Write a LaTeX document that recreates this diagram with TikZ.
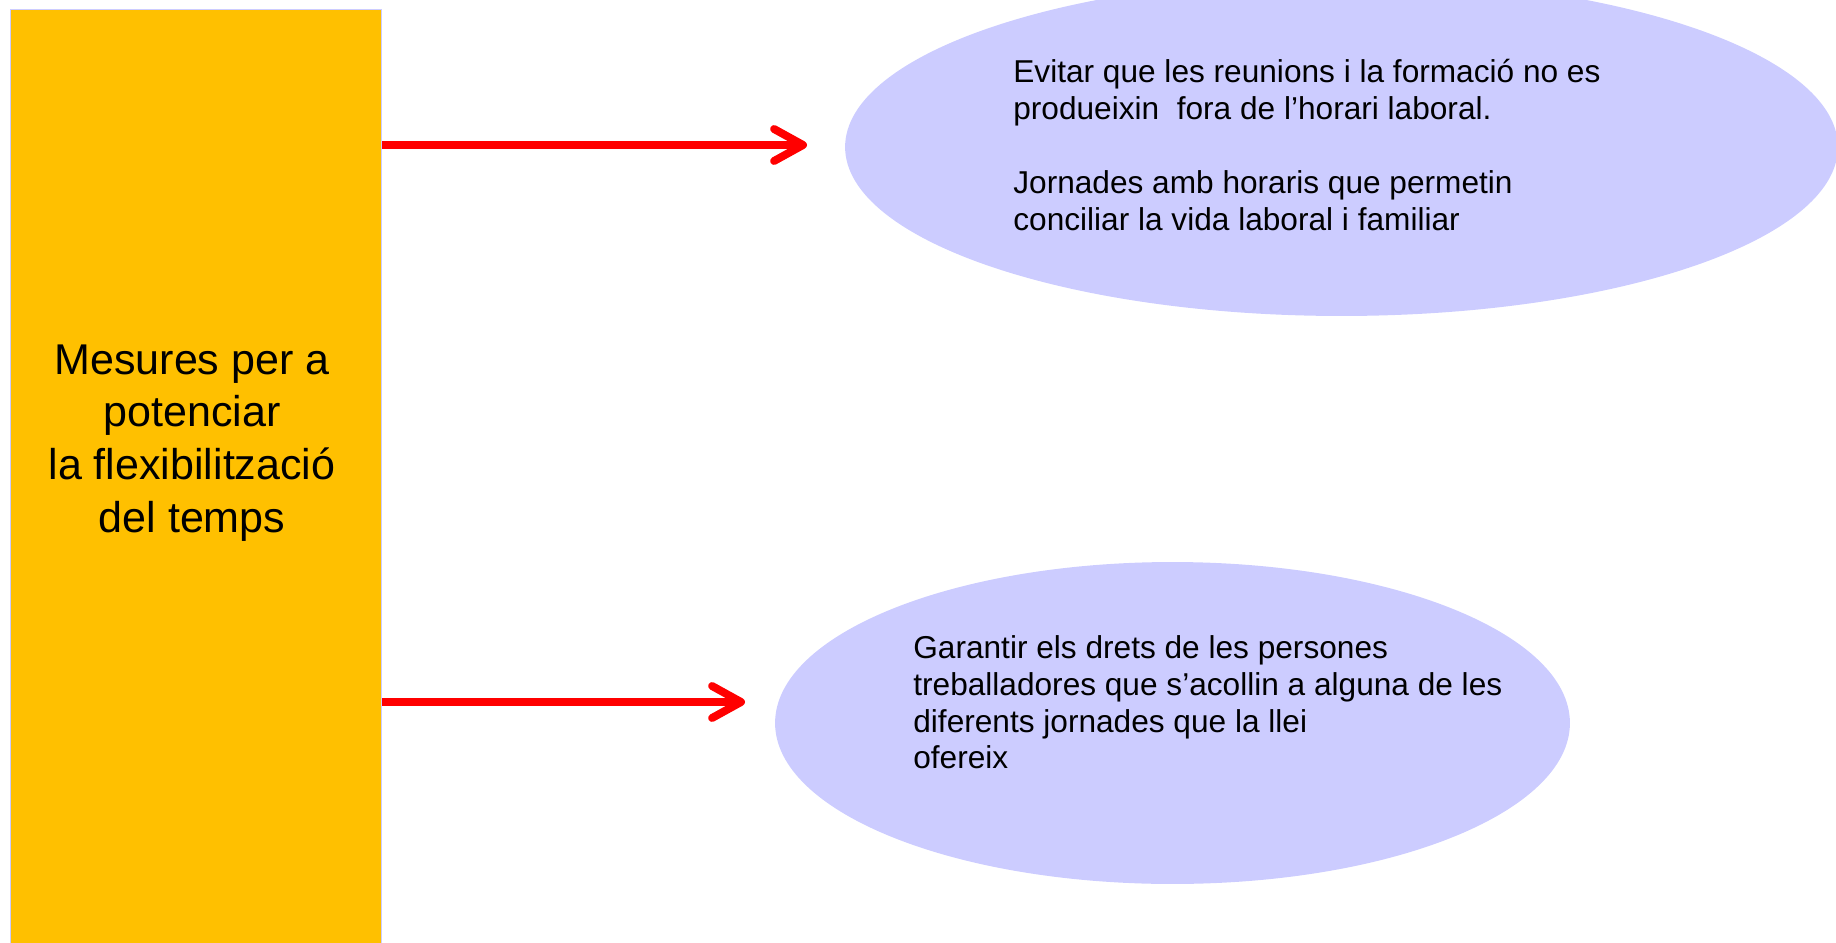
\documentclass[tikz,border=0pt]{standalone}
\usepackage{fontspec}
\setmainfont{Liberation Sans}
\usetikzlibrary{shapes,arrows.meta,positioning,calc}
\definecolor{taronja}{HTML}{FFC000}
\definecolor{lila}{HTML}{CCCCFF}
\definecolor{vermell}{HTML}{FF0000}

\begin{document}
\begin{tikzpicture}[x=0.02cm, y=-0.02cm,
    caixa/.style={draw=lila, fill=taronja, line width=0.8pt, minimum width=7.42cm, minimum height=19.1cm, inner sep=0pt, anchor=north west},
    bombolla/.style={ellipse, fill=lila, draw=none, inner sep=0pt},
    titol/.style={align=center, font=\fontsize{24.5}{30}\selectfont},
    mesura/.style={align=left, anchor=north west, inner sep=0pt, font=\fontsize{18}{21}\selectfont},
    fletxa/.style={-{Straight Barb[length=0.58cm, width=0.64cm, round]}, line width=4.5pt, vermell}
]
    \clip (0,0) rectangle (1836,943);

    \node[caixa] (caixa) at (10,9) {};
    \node[titol] (titol) at (192,443) {Mesures per a\\potenciar\\la flexibilització\\del temps};

    \node[bombolla, minimum width=19.86cm, minimum height=6.76cm] (dalt) at (1341.5,147) {};
    \node[bombolla, minimum width=15.9cm, minimum height=6.44cm] (baix) at (1172.5,723) {};

    \node[mesura] (horari) at (1013,59) {Evitar que les reunions i la formació no es\\produeixin\ \ fora de l’horari laboral.\\[21pt]Jornades amb horaris que permetin\\conciliar la vida laboral i familiar};
    \node[mesura] (drets) at (913,635) {Garantir els drets de les persones\\treballadores que s’acollin a alguna de les\\diferents jornades que la llei\\ofereix};

    \coordinate (punta1) at (807,145);
    \coordinate (punta2) at (745,702);
    \draw[fletxa] (caixa.east |- punta1) -- (punta1);
    \draw[fletxa] (caixa.east |- punta2) -- (punta2);
\end{tikzpicture}
\end{document}
